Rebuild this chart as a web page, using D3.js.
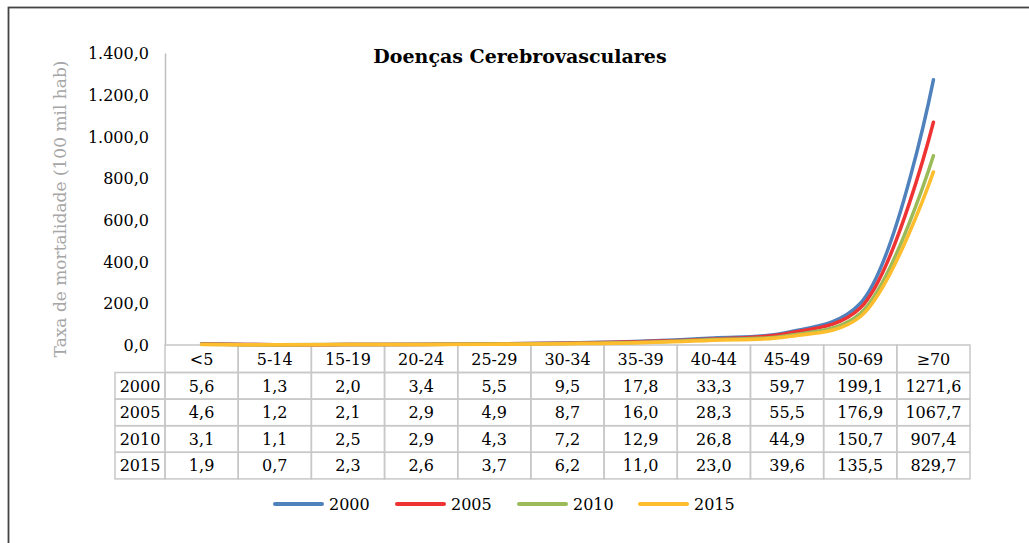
<!DOCTYPE html>
<html>
<head>
<meta charset="utf-8">
<style>
  body { margin: 0; background: #fff; font-family: "DejaVu Serif", serif; }
  .axis text { fill: #000; font-size: 16px; font-family: "DejaVu Serif", serif; }
  .axis path { stroke: #bfbfbf; stroke-width: 1.5; }
  .cell { fill: none; stroke: #c8c8c8; stroke-width: 1.5; }
  .tbl text { font-size: 16px; fill: #000; }
  .serie { fill: none; stroke-width: 3.5; stroke-linejoin: round; stroke-linecap: round; }
</style>
</head>
<body>
<script src="https://d3js.org/d3.v7.min.js"></script>
<script>
// data
var categories = ["<5", "5-14", "15-19", "20-24", "25-29", "30-34", "35-39", "40-44", "45-49", "50-69", "\u226570"];
var years = ["2000", "2005", "2010", "2015"];
var v2000 = [5.6, 1.3, 2.0, 3.4, 5.5, 9.5, 17.8, 33.3, 59.7, 199.1, 1271.6];
var v2005 = [4.6, 1.2, 2.1, 2.9, 4.9, 8.7, 16.0, 28.3, 55.5, 176.9, 1067.7];
var v2010 = [3.1, 1.1, 2.5, 2.9, 4.3, 7.2, 12.9, 26.8, 44.9, 150.7, 907.4];
var v2015 = [1.9, 0.7, 2.3, 2.6, 3.7, 6.2, 11.0, 23.0, 39.6, 135.5, 829.7];
var yTicks = [0, 200, 400, 600, 800, 1000, 1200, 1400];
var colors = ["#4f81bd", "#ef3333", "#9bbb59", "#fdbd2c"];

var series = [v2000, v2005, v2010, v2015];

var W = 1029, H = 543;
var plot = { left: 165, right: 970, top: 53, bottom: 345 };
var labelColLeft = 115;
var headerH = 27.5, rowH = 26.6;

var svg = d3.select("body").append("svg")
    .attr("width", W)
    .attr("height", H);

// outer frame
svg.append("rect")
    .attr("x", 8.5).attr("y", 7.5)
    .attr("width", 1100).attr("height", 600)
    .attr("fill", "none")
    .attr("stroke", "#444")
    .attr("stroke-width", 1.8);

var x = d3.scaleBand()
    .domain(categories)
    .range([plot.left, plot.right]);

var y = d3.scaleLinear()
    .domain([0, 1400])
    .range([plot.bottom, plot.top]);

var ptBR = d3.formatLocale({ decimal: ",", thousands: ".", grouping: [3], currency: ["R$", ""] });
var fmt = ptBR.format(",.1f");

// y axis
var yAxis = d3.axisLeft(y)
    .tickValues(yTicks)
    .tickSize(0)
    .tickPadding(16)
    .tickFormat(fmt);

svg.append("g")
    .attr("class", "y axis")
    .attr("transform", "translate(" + plot.left + ",0)")
    .call(yAxis)
    .call(function(g) { g.selectAll("text").attr("dy", "0.35em"); });

// y title
svg.append("text")
    .attr("transform", "translate(66," + 209 + ") rotate(-90)")
    .attr("text-anchor", "middle")
    .attr("fill", "#a6a6a6")
    .style("font-size", "17px")
    .text("Taxa de mortalidade (100 mil hab)");

// title
svg.append("text")
    .attr("x", 520).attr("y", 63)
    .attr("text-anchor", "middle")
    .style("font-size", "19px")
    .style("font-weight", "bold")
    .text("Doenças Cerebrovasculares");

// data table
var tbl = svg.append("g").attr("class", "tbl");
var bw = x.bandwidth();

// header row
categories.forEach(function(c) {
  tbl.append("rect").attr("class", "cell")
    .attr("x", x(c)).attr("y", plot.bottom)
    .attr("width", bw).attr("height", headerH);
  tbl.append("text")
    .attr("x", x(c) + bw / 2).attr("y", plot.bottom + headerH / 2)
    .attr("dy", "0.36em")
    .attr("text-anchor", "middle")
    .text(c);
});

years.forEach(function(yr, i) {
  var ry = plot.bottom + headerH + i * rowH;
  tbl.append("rect").attr("class", "cell")
    .attr("x", labelColLeft).attr("y", ry)
    .attr("width", plot.left - labelColLeft).attr("height", rowH);
  tbl.append("text")
    .attr("x", (labelColLeft + plot.left) / 2).attr("y", ry + rowH / 2)
    .attr("dy", "0.36em")
    .attr("text-anchor", "middle")
    .text(yr);
  categories.forEach(function(c, j) {
    tbl.append("rect").attr("class", "cell")
      .attr("x", x(c)).attr("y", ry)
      .attr("width", bw).attr("height", rowH);
    tbl.append("text")
      .attr("x", x(c) + bw / 2).attr("y", ry + rowH / 2)
      .attr("dy", "0.36em")
      .attr("text-anchor", "middle")
      .text(String(series[i][j].toFixed(1)).replace(".", ","));
  });
});

// lines
var line = d3.line()
    .x(function(d, j) { return x(categories[j]) + bw / 2; })
    .y(function(d) { return y(d); })
    .curve(d3.curveCatmullRom.alpha(0.5));

series.forEach(function(s, i) {
  svg.append("path")
    .attr("class", "serie")
    .attr("d", line(s))
    .attr("stroke", colors[i]);
});

// legend
var legendX = [275, 397, 519, 640];
var legend = svg.append("g");
years.forEach(function(yr, i) {
  legend.append("line")
    .attr("x1", legendX[i]).attr("x2", legendX[i] + 47)
    .attr("y1", 504).attr("y2", 504)
    .attr("stroke", colors[i])
    .attr("stroke-width", 4)
    .attr("stroke-linecap", "round");
  legend.append("text")
    .attr("x", legendX[i] + 54).attr("y", 504)
    .attr("dy", "0.36em")
    .style("font-size", "16px")
    .text(yr);
});
</script>
</body>
</html>
